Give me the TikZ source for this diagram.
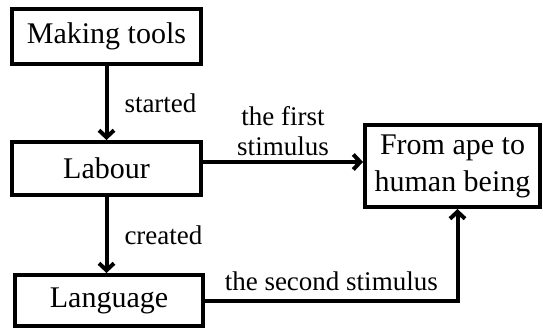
\documentclass[tikz,border=0pt]{standalone}
\usepackage{fontspec}
\setmainfont{Liberation Serif}
\usetikzlibrary{positioning}
\usetikzlibrary{arrows.meta}

\begin{document}
\begin{tikzpicture}[x=1pt, y=-1pt,
    box/.style={rectangle, draw=black, fill=white, line width=4pt, minimum width=189pt, minimum height=53pt, inner sep=0pt, align=center, font=\fontsize{30}{37}\selectfont},
    link/.style={-{Straight Barb[length=7pt, width=15pt]}, line width=4pt},
    lbl/.style={inner sep=0pt, align=center, font=\fontsize{27}{30}\selectfont}]
        \useasboundingbox (0,0) rectangle (543,330);

        \node[box, minimum height=55pt] (tools) at (106.5,36.5) {Making tools};
        \node[box, below = 74pt of tools] (labour) {Labour};
        \node[box, minimum width=188pt, minimum height=51pt, below = 76pt of labour, xshift=2.5pt] (language) {Language};
        \node[box, minimum width=175pt, minimum height=82pt] (human) at (452.5,166) {From ape to\\human being};

        \draw[link] (tools) -- node[lbl, right = 16pt] (started) {started} (labour);
        \draw[link] (labour.south) -- node[lbl, right = 16pt] (created) {created} (language.north -| labour.south);
        \draw[link] ([yshift=6.5pt] labour.east) -- node[lbl, above = 4pt] (first) {the first\\stimulus} ([yshift=6.5pt] labour.east -| human.west);
        \draw[link] (language.east) -| node[lbl, pos=0.25, above = 8pt] (second) {the second stimulus} ([xshift=5pt] human.south);
    \end{tikzpicture}
\end{document}
